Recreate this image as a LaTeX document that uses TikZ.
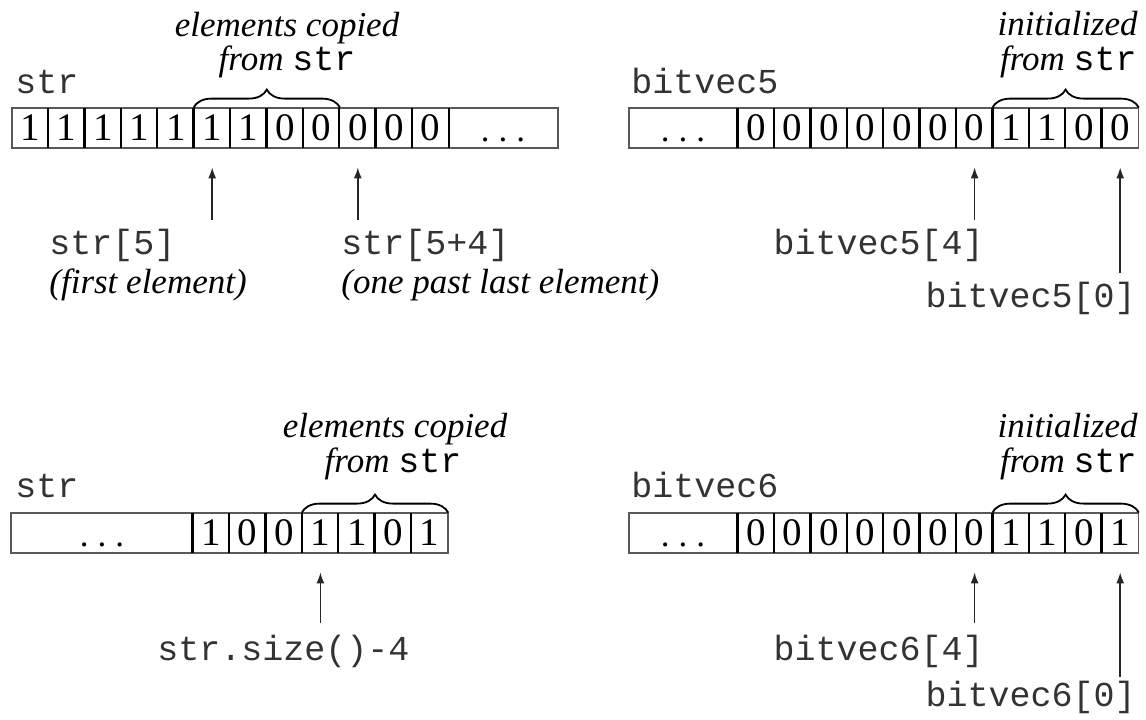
\documentclass[tikz,border=0pt]{standalone}
\usepackage{fontspec}
\setmainfont{Liberation Serif}
\setmonofont{Liberation Mono}
\usetikzlibrary{arrows.meta, decorations.pathreplacing, calc}
\newcommand{\codeword}[1]{{\upshape\ttfamily #1}}
\newcommand{\spreaddots}{.\hspace{4.5pt}.\hspace{4.5pt}.}

\begin{document}
\begin{tikzpicture}[x=0.5pt, y=-0.5pt]
	\def\cw{36.4}
	\tikzset{
		cell/.style={inner sep=0pt, minimum width=18.2pt, minimum height=20pt, font=\fontsize{19.5}{20}\selectfont},
		dots/.style={inner sep=0pt, anchor=base, font=\fontsize{17.5}{20}\selectfont},
		frame/.style={draw=black!65, line width=0.8pt},
		divider/.style={draw=black, line width=1.2pt},
		copied/.style={decorate, decoration={brace, amplitude=9pt}, line width=0.9pt},
		pointer/.style={-{Latex[length=5.5pt, width=4pt]}, line width=0.75pt, black!85, shorten >=9.5pt},
		code/.style={inner sep=0pt, text=black!80, font=\fontsize{17.5}{20}\selectfont\ttfamily},
		note/.style={inner sep=0pt, font=\fontsize{17.5}{20}\selectfont\itshape},
	}
	\useasboundingbox (0,0) rectangle (1146,719);

	% str, upper left
	\draw[frame] (12,108) rectangle (558,148);
	\foreach \b [count=\i from 0] in {1,1,1,1,1,1,1,0,0,0,0,0}
		\node[cell] (A\i) at (12+\i*\cw+18.2,128) {\b};
	\foreach \i in {1,...,11}
		\draw[divider] (A\i.north west) -- (A\i.south west);
	\draw[divider] (A11.north east) -- (A11.south east);
	\node[dots] (Adots) at (503,141) {\spreaddots};
	\node[code, anchor=base west] (Aname) at (15,93) {str};
	\draw[copied] (A5.north west) -- (A8.north east);
	\node[note, anchor=base] (Acap1) at (287,36) {elements copied};
	\node[note, anchor=base] (Acap2) at (287,70) {from \codeword{str}};
	\coordinate (Atail1) at (A5 |- 0,220);
	\coordinate (Atail2) at (A9 |- 0,220);
	\draw[pointer] (Atail1) -- (A5.south);
	\draw[pointer] (Atail2) -- (A9.south);
	\node[code, anchor=base west] (Alab1) at (49,254) {str[5]};
	\node[note, anchor=base west] (Alab2) at (49,293) {(first element)};
	\node[code, anchor=base west] (Alab3) at (341,254) {str[5+4]};
	\node[note, anchor=base west] (Alab4) at (341,293) {(one past last element)};

	% bitvec5, upper right
	\draw[frame] (629,108) rectangle (1138.4,148);
	\foreach \b [count=\i from 0] in {0,0,0,0,0,0,0,1,1,0,0}
		\node[cell] (B\i) at (738+\i*\cw+18.2,128) {\b};
	\foreach \i in {0,...,10}
		\draw[divider] (B\i.north west) -- (B\i.south west);
	\node[dots] (Bdots) at (683,141) {\spreaddots};
	\node[code, anchor=base west] (Bname) at (631,93) {bitvec5};
	\draw[copied] (B7.north west) -- (B10.north east);
	\node[note, anchor=base east] (Bcap1) at (1138,35) {initialized};
	\node[note, anchor=base east] (Bcap2) at (1137,70) {from \codeword{str}};
	\coordinate (Btail1) at (B6 |- 0,220);
	\coordinate (Btail2) at (B10 |- 0,273);
	\draw[pointer] (Btail1) -- (B6.south);
	\draw[pointer] (Btail2) -- (B10.south);
	\node[code, anchor=base east] (Blab1) at (984,254) {bitvec5[4]};
	\node[code, anchor=base east] (Blab2) at (1136,307) {bitvec5[0]};

	% str, lower left
	\draw[frame] (11,513) rectangle (447.8,553);
	\foreach \b [count=\i from 0] in {1,0,0,1,1,0,1}
		\node[cell] (C\i) at (193+\i*\cw+18.2,533) {\b};
	\foreach \i in {0,...,6}
		\draw[divider] (C\i.north west) -- (C\i.south west);
	\node[dots] (Cdots) at (102,546) {\spreaddots};
	\node[code, anchor=base west] (Cname) at (15,497) {str};
	\draw[copied] (C3.north west) -- (C6.north east);
	\node[note, anchor=base] (Ccap1) at (395,437) {elements copied};
	\node[note, anchor=base] (Ccap2) at (393,472) {from \codeword{str}};
	\coordinate (Ctail1) at (C3 |- 0,623);
	\draw[pointer] (Ctail1) -- (C3.south);
	\node[code, anchor=base west] (Clab1) at (157,660) {str.size()-4};

	% bitvec6, lower right
	\draw[frame] (629,513) rectangle (1138.4,553);
	\foreach \b [count=\i from 0] in {0,0,0,0,0,0,0,1,1,0,1}
		\node[cell] (D\i) at (738+\i*\cw+18.2,533) {\b};
	\foreach \i in {0,...,10}
		\draw[divider] (D\i.north west) -- (D\i.south west);
	\node[dots] (Ddots) at (683,546) {\spreaddots};
	\node[code, anchor=base west] (Dname) at (631,497) {bitvec6};
	\draw[copied] (D7.north west) -- (D10.north east);
	\node[note, anchor=base east] (Dcap1) at (1138,437) {initialized};
	\node[note, anchor=base east] (Dcap2) at (1137,472) {from \codeword{str}};
	\coordinate (Dtail1) at (D6 |- 0,623);
	\coordinate (Dtail2) at (D10 |- 0,677);
	\draw[pointer] (Dtail1) -- (D6.south);
	\draw[pointer] (Dtail2) -- (D10.south);
	\node[code, anchor=base east] (Dlab1) at (984,660) {bitvec6[4]};
	\node[code, anchor=base east] (Dlab2) at (1136,706) {bitvec6[0]};
\end{tikzpicture}
\end{document}
